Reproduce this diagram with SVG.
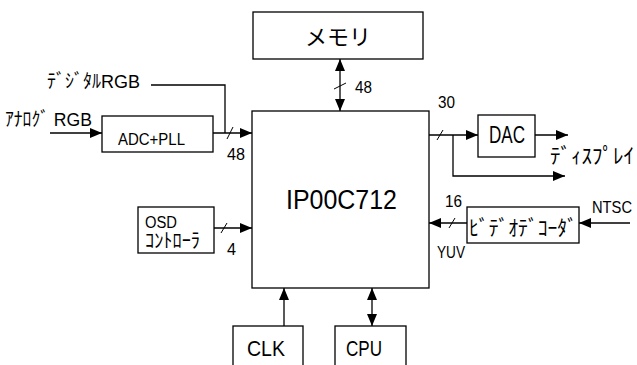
<svg xmlns="http://www.w3.org/2000/svg" width="637" height="365" viewBox="0 0 637 365">
<defs>
<marker id="ah" viewBox="0 0 12 10" refX="12" refY="5" markerWidth="12" markerHeight="10" markerUnits="userSpaceOnUse" orient="auto-start-reverse">
<path d="M0,0 L12,5 L0,10 Z" fill="#000"/>
</marker>
</defs>
<style>
.box{fill:#fff;stroke:#000;stroke-width:1.3}
.ln{fill:none;stroke:#000;stroke-width:1.3}
.ar{fill:none;stroke:#000;stroke-width:1.3;marker-end:url(#ah)}
.da{fill:none;stroke:#000;stroke-width:1.3;marker-start:url(#ah);marker-end:url(#ah)}
.sl{fill:none;stroke:#000;stroke-width:1}
text{font-family:"Liberation Sans","Noto Sans CJK JP",sans-serif;fill:#000}
</style>
<rect width="637" height="365" fill="#fff"/>
<g id="connectors">
<path class="da" d="M340,59 V111"/>
<path class="sl" d="M334,89 L346,83"/>
<path class="ar" d="M50,133 H102"/>
<path class="ln" d="M151,85 H225 V133"/>
<path class="ar" d="M213,133 H252"/>
<path class="sl" d="M227,139 L233,127"/>
<path class="ar" d="M429,135 H478"/>
<path class="sl" d="M437,140 L443,130"/>
<path class="ar" d="M453,135 V176 H565"/>
<path class="ar" d="M535,135 H568"/>
<path class="ar" d="M467,223 H429"/>
<path class="sl" d="M449,228 L455,218"/>
<path class="ar" d="M630,223 H579"/>
<path class="ar" d="M214,228 H252"/>
<path class="sl" d="M221,233 L227,223"/>
<path class="ar" d="M284,326 V288"/>
<path class="da" d="M372,288 V326"/>
</g>
<g id="memory">
<rect class="box" x="253" y="12" width="170" height="47"/>
<text x="338" y="45" font-size="22" text-anchor="middle">メモリ</text>
</g>
<g id="main">
<rect class="box" x="252" y="111" width="177" height="177"/>
<text x="286" y="209" font-size="27" textLength="111" lengthAdjust="spacingAndGlyphs">IP00C712</text>
</g>
<g id="adc">
<rect class="box" x="102" y="116" width="111" height="36"/>
<text x="118" y="145" font-size="17" textLength="67" lengthAdjust="spacingAndGlyphs">ADC+PLL</text>
</g>
<g id="dac">
<rect class="box" x="478" y="115" width="57" height="42"/>
<text x="489" y="143" font-size="24" textLength="36" lengthAdjust="spacingAndGlyphs">DAC</text>
</g>
<g id="decoder">
<rect class="box" x="467" y="207" width="112" height="36"/>
<text x="469" y="235" font-size="21" textLength="108" lengthAdjust="spacingAndGlyphs">ﾋﾞﾃﾞｵﾃﾞｺｰﾀﾞ</text>
</g>
<g id="osd">
<rect class="box" x="138" y="207" width="76" height="46"/>
<text x="145" y="228" font-size="16" textLength="32" lengthAdjust="spacingAndGlyphs">OSD</text>
<text x="145" y="248" font-size="20" textLength="55" lengthAdjust="spacingAndGlyphs">ｺﾝﾄﾛｰﾗ</text>
</g>
<g id="clk">
<rect class="box" x="233" y="326" width="70" height="45"/>
<text x="247" y="356" font-size="22" textLength="38" lengthAdjust="spacingAndGlyphs">CLK</text>
</g>
<g id="cpu">
<rect class="box" x="335" y="326" width="71" height="45"/>
<text x="346" y="356" font-size="22" textLength="36" lengthAdjust="spacingAndGlyphs">CPU</text>
</g>
<g id="labels">
<text x="47" y="88" font-size="19" textLength="93" lengthAdjust="spacingAndGlyphs">ﾃﾞｼﾞﾀﾙRGB</text>
<text x="5" y="126" font-size="19" textLength="87" lengthAdjust="spacingAndGlyphs">ｱﾅﾛｸﾞ RGB</text>
<text x="227" y="160" font-size="16" textLength="18" lengthAdjust="spacingAndGlyphs">48</text>
<text x="355" y="93" font-size="16" textLength="17" lengthAdjust="spacingAndGlyphs">48</text>
<text x="438" y="108" font-size="16" textLength="17" lengthAdjust="spacingAndGlyphs">30</text>
<text x="550" y="163" font-size="21" textLength="84" lengthAdjust="spacingAndGlyphs">ﾃﾞｨｽﾌﾟﾚｲ</text>
<text x="445" y="207" font-size="16" textLength="17" lengthAdjust="spacingAndGlyphs">16</text>
<text x="437" y="258" font-size="16" textLength="28" lengthAdjust="spacingAndGlyphs">YUV</text>
<text x="592" y="213" font-size="17" textLength="40" lengthAdjust="spacingAndGlyphs">NTSC</text>
<text x="227" y="255" font-size="16" textLength="9" lengthAdjust="spacingAndGlyphs">4</text>
</g>
</svg>
